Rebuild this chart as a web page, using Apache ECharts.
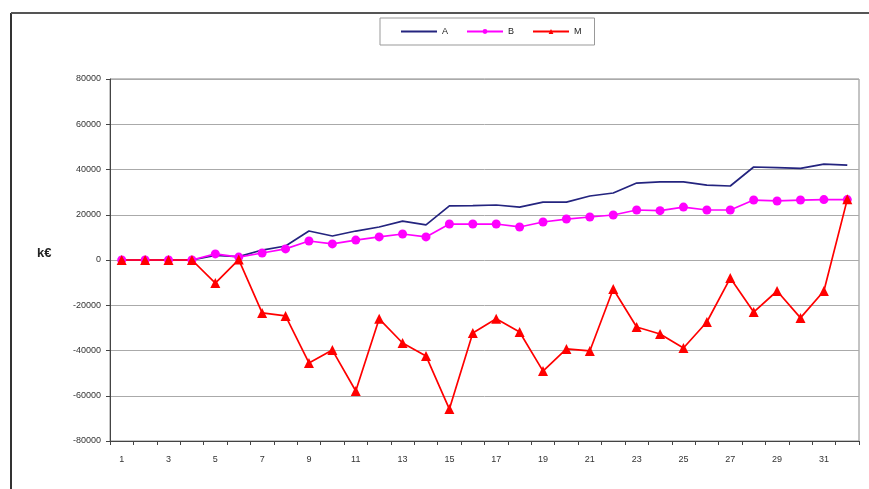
<!DOCTYPE html>
<html>
<head>
<meta charset="utf-8">
<script src="https://cdn.jsdelivr.net/npm/echarts@6/dist/echarts.min.js"></script>
<style>
html,body{margin:0;padding:0;background:#fff;}
#c{width:869px;height:489px;}
</style>
</head>
<body>
<div id="c"></div>
<script>
var categories = ['1','2','3','4','5','6','7','8','9','10','11','12','13','14','15','16','17','18','19','20','21','22','23','24','25','26','27','28','29','30','31','32'];
var seriesA = [0,0,0,0,2000,1500,4400,6200,12800,10600,12800,14600,17200,15500,23900,24000,24300,23400,25600,25600,28300,29600,34000,34500,34500,33100,32700,41100,40800,40500,42400,41900];
var seriesB = [0,0,0,0,2700,1300,3100,4900,8400,7100,8800,10200,11500,10200,15900,15900,15900,14600,16800,18100,19000,19900,22100,21800,23400,22100,22100,26500,26100,26500,26700,26700];
var seriesM = [0,0,0,0,-10200,200,-23400,-24700,-45500,-39800,-57900,-26000,-36700,-42400,-65900,-32300,-26000,-31800,-49100,-39300,-40200,-12800,-29600,-32700,-38900,-27400,-8000,-23000,-13700,-25600,-13700,26800];
var yTicks = {min:-80000, max:80000, interval:20000};

var chart = echarts.init(document.getElementById('c'));
var lbl = {fontFamily:'Liberation Sans, Arial', fontSize:9, color:'#333'};
chart.setOption({
  animation:false,
  backgroundColor:'#fff',
  legend:{
    left:380, top:18,
    padding:[9,13,9,20],
    itemWidth:36, itemHeight:6, itemGap:18,
    borderColor:'#999', borderWidth:1,
    textStyle:{fontFamily:'Liberation Sans, Arial', fontSize:9, color:'#222'},
    data:[{name:'A', itemStyle:{opacity:0}}, {name:'B'}, {name:'M'}]
  },
  grid:{left:110, right:10, top:79, bottom:48, show:true, borderColor:'#888', borderWidth:1},
  xAxis:{
    type:'category', data:categories, boundaryGap:true,
    axisLine:{onZero:false, lineStyle:{color:'#444', width:1}},
    axisTick:{show:true, interval:0, length:4, lineStyle:{color:'#444'}},
    axisLabel:Object.assign({interval:1, margin:14}, lbl),
    splitLine:{show:false}
  },
  yAxis:{
    type:'value', min:yTicks.min, max:yTicks.max, interval:yTicks.interval,
    axisLine:{show:true, lineStyle:{color:'#444', width:1}},
    axisTick:{show:true, length:4, lineStyle:{color:'#444'}},
    axisLabel:Object.assign({margin:9, formatter:function(v){return String(v);}}, lbl),
    splitLine:{show:true, lineStyle:{color:'#aaa', width:1}}
  },
  graphic:[
    {type:'line', shape:{x1:11, y1:13, x2:11, y2:489}, style:{stroke:'#333', lineWidth:2}},
    {type:'line', shape:{x1:11, y1:13, x2:869, y2:13}, style:{stroke:'#555', lineWidth:2}},
    {type:'text', left:37, top:247, style:{text:'k€', font:'bold 13px Liberation Sans, Arial', fill:'#222'}}
  ],
  series:[
    {name:'A', type:'line', data:seriesA, symbol:'none', lineStyle:{color:'#24247f', width:1.7}, itemStyle:{color:'#24247f'}},
    {name:'B', type:'line', data:seriesB, symbol:'circle', symbolSize:9, lineStyle:{color:'#ff00ff', width:1.7}, itemStyle:{color:'#ff00ff'}},
    {name:'M', type:'line', data:seriesM, symbol:'triangle', symbolSize:10, lineStyle:{color:'#ff0000', width:1.7}, itemStyle:{color:'#ff0000'}}
  ]
});
</script>
</body>
</html>
